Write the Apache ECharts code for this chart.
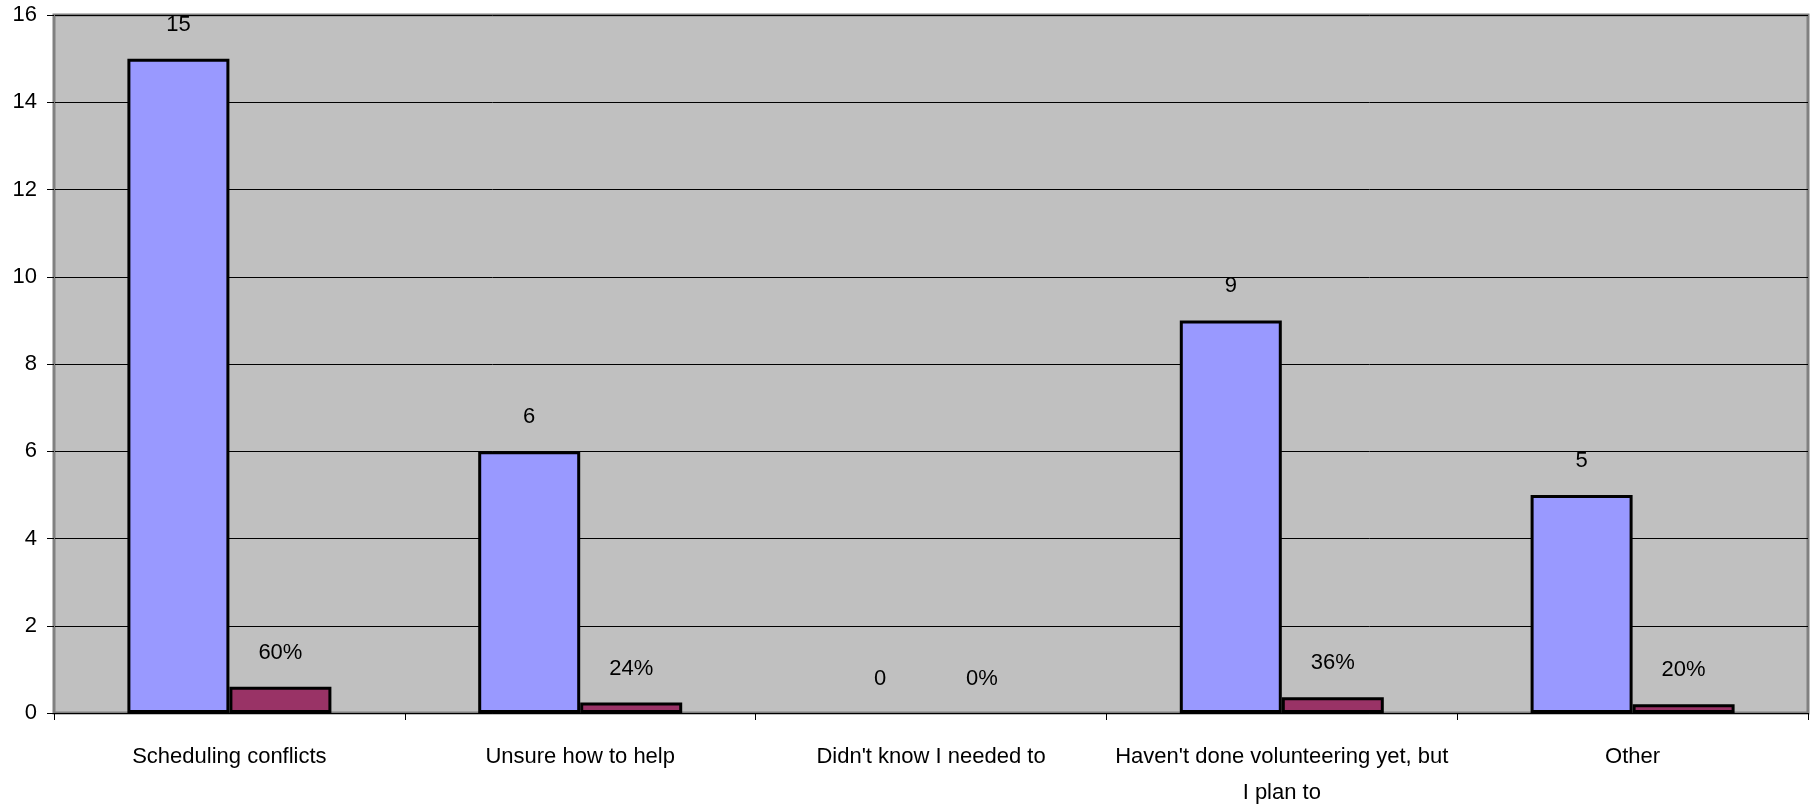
<!DOCTYPE html>
<html>
<head>
<meta charset="utf-8">
<script src="https://cdn.jsdelivr.net/npm/echarts@6/dist/echarts.min.js"></script>
<style>
html,body{margin:0;padding:0;background:#fff;}
#chart{width:1818px;height:811px;}
</style>
</head>
<body>
<div id="chart"></div>
<script>
const categories = ["Scheduling conflicts", "Unsure how to help", "Didn't know I needed to", "Haven't done volunteering yet, but\nI plan to", "Other"];
const counts = [15, 6, 0, 9, 5];
const shares = [0.60, 0.24, 0, 0.36, 0.20];
const shareLabels = ["60%", "24%", "0%", "36%", "20%"];
const yTicks = { min: 0, max: 16, interval: 2 };

// zero-height bars draw no outline
const toItems = arr => arr.map(v => v === 0 ? {value: v, itemStyle: {borderWidth: 0, opacity: 0}} : {value: v});

const chart = echarts.init(document.getElementById('chart'), null, {renderer: 'canvas'});
const font = '"Liberation Sans", Arial, sans-serif';
const labelBase = {show: true, position: 'top', distance: 23, fontFamily: font, fontSize: 22, color: '#000', opacity: 1};
chart.setOption({
  animation: false,
  backgroundColor: '#ffffff',
  grid: {
    left: 54, right: 10, top: 15, bottom: 92,
    show: true, backgroundColor: '#C0C0C0', borderColor: '#808080', borderWidth: 3
  },
  xAxis: {
    type: 'category',
    data: categories,
    boundaryGap: true,
    axisLine: {show: true, lineStyle: {color: '#000', width: 1}},
    axisTick: {show: true, length: 7, lineStyle: {color: '#000'}},
    axisLabel: {fontFamily: font, fontSize: 22, color: '#000', margin: 26, lineHeight: 36, interval: 0}
  },
  yAxis: {
    type: 'value',
    min: yTicks.min, max: yTicks.max, interval: yTicks.interval,
    axisLine: {show: true, lineStyle: {color: '#808080', width: 1}},
    axisTick: {show: true, length: 7, lineStyle: {color: '#000'}},
    axisLabel: {fontFamily: font, fontSize: 22, color: '#000', margin: 17},
    splitLine: {show: true, lineStyle: {color: '#000', width: 1}}
  },
  series: [
    {
      type: 'bar',
      data: toItems(counts),
      barWidth: 102,
      barGap: '0%',
      itemStyle: {color: '#9999FF', borderColor: '#000', borderWidth: 3},
      label: Object.assign({}, labelBase)
    },
    {
      type: 'bar',
      data: toItems(shares),
      barWidth: 102,
      barGap: '0%',
      itemStyle: {color: '#993366', borderColor: '#000', borderWidth: 3},
      label: Object.assign({}, labelBase, {formatter: p => shareLabels[p.dataIndex]})
    }
  ]
});
</script>
</body>
</html>
